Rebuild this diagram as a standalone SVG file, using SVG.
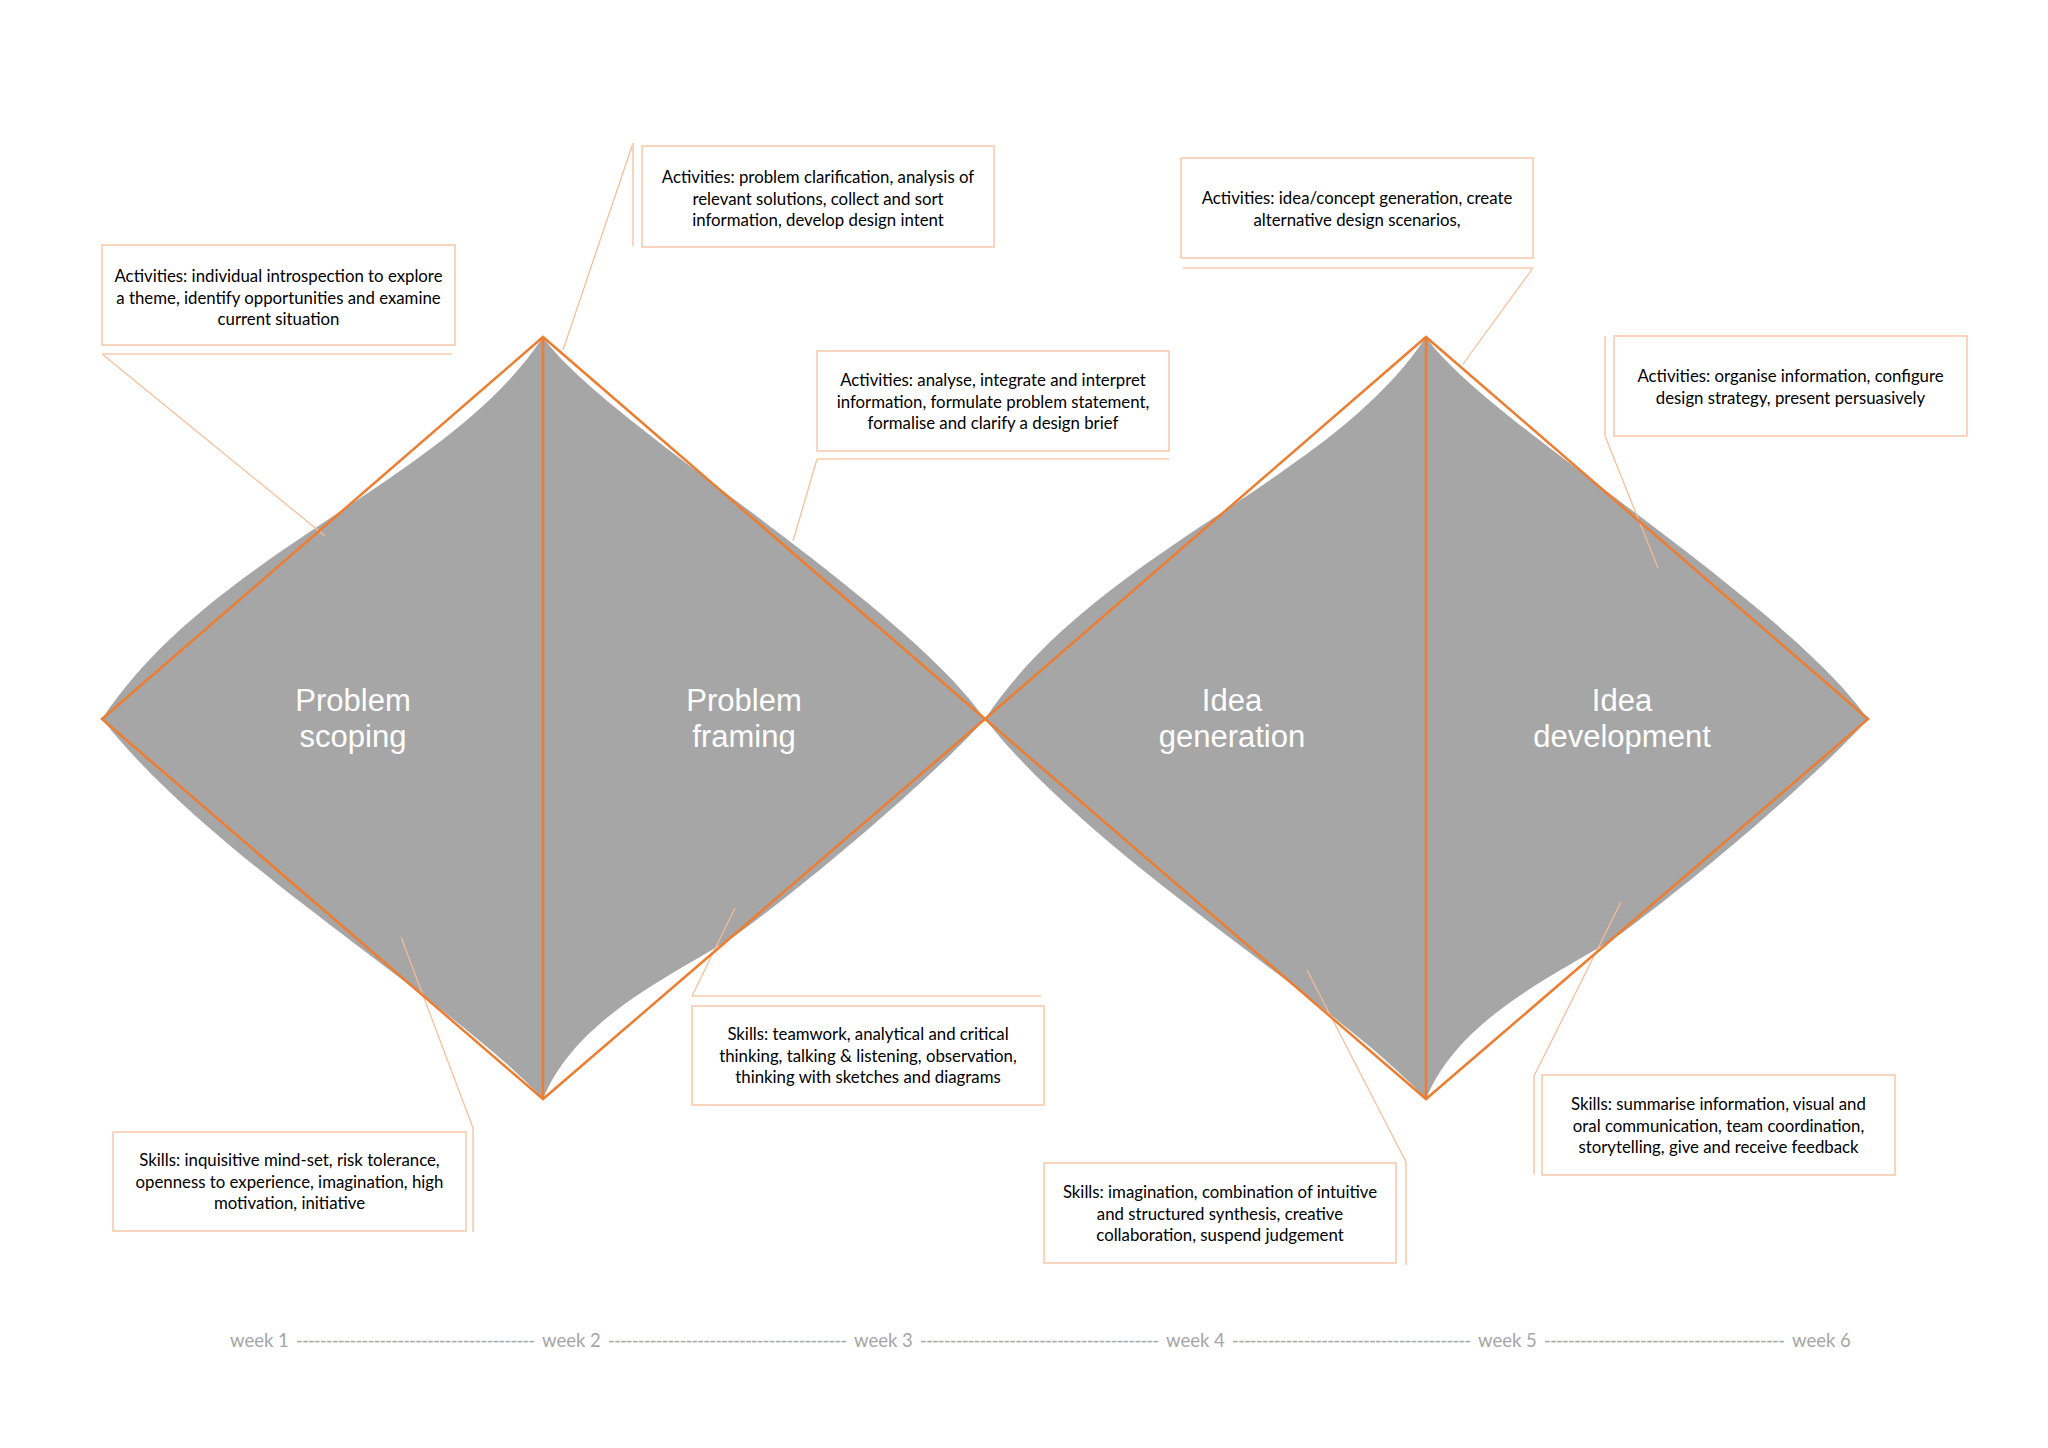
<svg xmlns="http://www.w3.org/2000/svg" width="2048" height="1448" viewBox="0 0 2048 1448">
<defs>
<style>
.fill{fill:#a6a6a6}
.outline{fill:none;stroke:#ed7d31;stroke-width:2.5;stroke-linejoin:miter}
.phase{font-family:"Liberation Sans",Arial,sans-serif;font-size:31px;fill:#ffffff;text-anchor:middle}
.box{fill:#ffffff;stroke:#f8cbad;stroke-width:1.6}
.accent{stroke:#f8cbad;stroke-width:1.6;fill:none}
.leader{stroke:#f5bc96;stroke-width:1.2;fill:none}
.note{font-family:Lato,"Open Sans",sans-serif;font-size:16.8px;fill:#000000;text-anchor:middle}
.week{font-family:Lato,"Liberation Sans",sans-serif;font-size:18.5px;fill:#a6a6a6}
</style>
</defs>
<rect x="0" y="0" width="2048" height="1448" fill="#ffffff"/>

<g id="diamond-1">
<path class="fill" d="M102 719 C215 549 447 483 543 337 C600 420 900 598 985 719 C940 770 823 871 743 930 C693 967 579 1010 543 1099 C447 996 215 862 102 719 Z"/>
</g>
<g id="diamond-2">
<path class="fill" transform="translate(883,0)" d="M102 719 C215 549 447 483 543 337 C600 420 900 598 985 719 C940 770 823 871 743 930 C693 967 579 1010 543 1099 C447 996 215 862 102 719 Z"/>
</g>

<g id="connectors">
<line class="leader" x1="102" y1="354" x2="325" y2="536"/>
<line class="leader" x1="633" y1="143" x2="563" y2="350"/>
<line class="leader" x1="817" y1="459" x2="793" y2="541"/>
<line class="leader" x1="1533" y1="268" x2="1463" y2="364"/>
<line class="leader" x1="1605" y1="436" x2="1658" y2="568"/>
<line class="leader" x1="473" y1="1128" x2="401" y2="937"/>
<line class="leader" x1="692" y1="996" x2="735" y2="908"/>
<line class="leader" x1="1406" y1="1162" x2="1307" y2="970"/>
<line class="leader" x1="1534" y1="1076" x2="1621" y2="902"/>
</g>

<g id="outlines">
<polygon class="outline" points="102,719 543,337 985,719 543,1099"/>
<line class="outline" x1="543" y1="337" x2="543" y2="1099"/>
<polygon class="outline" points="985,719 1426,337 1868,719 1426,1099"/>
<line class="outline" x1="1426" y1="337" x2="1426" y2="1099"/>
</g>

<g id="phase-problem-scoping"><text class="phase" x="353" y="711">Problem<tspan x="353" dy="36">scoping</tspan></text></g>
<g id="phase-problem-framing"><text class="phase" x="744" y="711">Problem<tspan x="744" dy="36">framing</tspan></text></g>
<g id="phase-idea-generation"><text class="phase" x="1232" y="711">Idea<tspan x="1232" dy="36">generation</tspan></text></g>
<g id="phase-idea-development"><text class="phase" x="1622" y="711">Idea<tspan x="1622" dy="36">development</tspan></text></g>

<g id="note-scoping-activities">
<rect class="box" x="102" y="245" width="353" height="100"/>
<line class="accent" x1="102" y1="354" x2="452" y2="354"/>
<text class="note" x="278.5" y="282">Activities: individual introspection to explore<tspan x="278.5" dy="21.5">a theme, identify opportunities and examine</tspan><tspan x="278.5" dy="21.5">current situation</tspan></text>
</g>

<g id="note-scoping-activities-2">
<rect class="box" x="642" y="146" width="352" height="101"/>
<line class="accent" x1="633" y1="143" x2="633" y2="246"/>
<text class="note" x="818" y="183">Activities: problem clarification, analysis of<tspan x="818" dy="21.5">relevant solutions, collect and sort</tspan><tspan x="818" dy="21.5">information, develop design intent</tspan></text>
</g>

<g id="note-framing-activities">
<rect class="box" x="817" y="351" width="352" height="100"/>
<line class="accent" x1="817" y1="459" x2="1169" y2="459"/>
<text class="note" x="993" y="386">Activities: analyse, integrate and interpret<tspan x="993" dy="21.5">information, formulate problem statement,</tspan><tspan x="993" dy="21.5">formalise and clarify a design brief</tspan></text>
</g>

<g id="note-generation-activities">
<rect class="box" x="1181" y="158" width="352" height="100"/>
<line class="accent" x1="1183" y1="268" x2="1533" y2="268"/>
<text class="note" x="1357" y="204">Activities: idea/concept generation, create<tspan x="1357" dy="21.5">alternative design scenarios,</tspan></text>
</g>

<g id="note-development-activities">
<rect class="box" x="1614" y="336" width="353" height="100"/>
<line class="accent" x1="1605" y1="336" x2="1605" y2="436"/>
<text class="note" x="1790.5" y="382">Activities: organise information, configure<tspan x="1790.5" dy="21.5">design strategy, present persuasively</tspan></text>
</g>

<g id="note-scoping-skills">
<rect class="box" x="113" y="1132" width="353" height="99"/>
<line class="accent" x1="473" y1="1128" x2="473" y2="1232"/>
<text class="note" x="289.5" y="1166">Skills: inquisitive mind-set, risk tolerance,<tspan x="289.5" dy="21.5">openness to experience, imagination, high</tspan><tspan x="289.5" dy="21.5">motivation, initiative</tspan></text>
</g>

<g id="note-framing-skills">
<rect class="box" x="692" y="1006" width="352" height="99"/>
<line class="accent" x1="692" y1="996" x2="1041" y2="996"/>
<text class="note" x="868" y="1040">Skills: teamwork, analytical and critical<tspan x="868" dy="21.5">thinking, talking &amp; listening, observation,</tspan><tspan x="868" dy="21.5">thinking with sketches and diagrams</tspan></text>
</g>

<g id="note-generation-skills">
<rect class="box" x="1044" y="1163" width="352" height="100"/>
<line class="accent" x1="1406" y1="1162" x2="1406" y2="1265"/>
<text class="note" x="1220" y="1198">Skills: imagination, combination of intuitive<tspan x="1220" dy="21.5">and structured synthesis, creative</tspan><tspan x="1220" dy="21.5">collaboration, suspend judgement</tspan></text>
</g>

<g id="note-development-skills">
<rect class="box" x="1542" y="1075" width="353" height="100"/>
<line class="accent" x1="1534" y1="1076" x2="1534" y2="1174"/>
<text class="note" x="1718.5" y="1110">Skills: summarise information, visual and<tspan x="1718.5" dy="21.5">oral communication, team coordination,</tspan><tspan x="1718.5" dy="21.5">storytelling, give and receive feedback</tspan></text>
</g>

<g id="timeline">
<text class="week" x="230" y="1347">week 1</text>
<text class="week" x="296" y="1347" textLength="239" lengthAdjust="spacing">----------------------------------------</text>
<text class="week" x="542" y="1347">week 2</text>
<text class="week" x="608" y="1347" textLength="239" lengthAdjust="spacing">----------------------------------------</text>
<text class="week" x="854" y="1347">week 3</text>
<text class="week" x="920" y="1347" textLength="239" lengthAdjust="spacing">----------------------------------------</text>
<text class="week" x="1166" y="1347">week 4</text>
<text class="week" x="1232" y="1347" textLength="239" lengthAdjust="spacing">----------------------------------------</text>
<text class="week" x="1478" y="1347">week 5</text>
<text class="week" x="1544" y="1347" textLength="241" lengthAdjust="spacing">----------------------------------------</text>
<text class="week" x="1792" y="1347">week 6</text>
</g>
</svg>
